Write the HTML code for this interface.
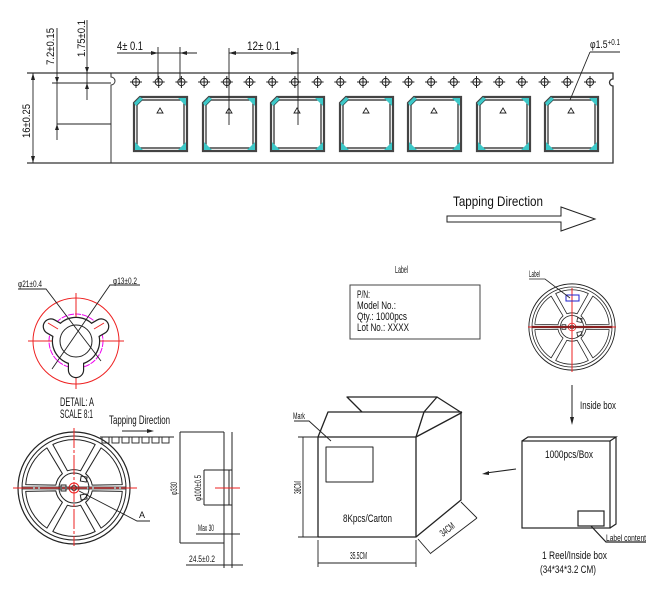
<!DOCTYPE html>
<html><head><meta charset="utf-8"><style>
html,body{margin:0;padding:0;background:#fff}
svg{display:block}
text{font-family:"Liberation Sans Narrow","Liberation Sans",sans-serif;fill:#111}
</style></head><body>
<svg width="650" height="600" viewBox="0 0 650 600" xmlns="http://www.w3.org/2000/svg">
<defs>
<g id="hole"><circle r="3.6" fill="none" stroke="#222" stroke-width="1"/><path d="M-6,0H6M0,-6V6" stroke="#222" stroke-width="1"/></g>
<g id="pocket">
<path d="M6,0H53V54H0V6Z" fill="none" stroke="#444" stroke-width="2.2"/>
<path d="M8,3H50V51H3V8Z" fill="none" stroke="#222" stroke-width="1.2"/>
<polygon points="44,1 52,1 52,9" fill="#3cc8c8"/>
<polygon points="52,45 52,53 44,53" fill="#3cc8c8"/>
<polygon points="1,45 1,53 9,53" fill="#3cc8c8"/>
<polygon points="6,0 9,2 2,9 0,6" fill="#3cc8c8"/>
<polygon points="26,11 29,16 23,16" fill="none" stroke="#222" stroke-width="0.9"/>
</g>
<path id="win" d="M17.2,-6.6 L43.5,-21.2 A48,48 0 0 1 43.5,21.2 L17.2,6.6 A19,19 0 0 0 17.2,-6.6 Z" fill="none" stroke="#222" stroke-width="1" stroke-linejoin="round"/>
<g id="reel">
<circle r="56" fill="none" stroke="#222" stroke-width="1.2"/>
<circle r="52" fill="none" stroke="#222" stroke-width="1"/>
<use href="#win" transform="rotate(30)"/><use href="#win" transform="rotate(90)"/><use href="#win" transform="rotate(150)"/>
<use href="#win" transform="rotate(210)"/><use href="#win" transform="rotate(270)"/><use href="#win" transform="rotate(330)"/>
<circle r="15" fill="none" stroke="#222" stroke-width="1"/>
<rect x="5" y="-13" width="6" height="5" fill="none" stroke="#222" transform="rotate(10)"/>
<rect x="5" y="8" width="6" height="5" fill="none" stroke="#222" transform="rotate(-10)"/>
<rect x="-13" y="-3" width="5" height="6" fill="none" stroke="#222"/>
<circle r="5" fill="none" stroke="#e22" stroke-width="1"/>
<circle r="2.5" fill="none" stroke="#222" stroke-width="1"/>
<path d="M-52,-1H52M-52,1H52" stroke="#222" stroke-width="0.8"/>
</g>
</defs>

<!-- TAPE -->
<g stroke="#333" fill="none">
<path d="M27,73H613V79A3,3 0 0 0 613,86V163H27" stroke-width="1.3"/>
<path d="M111,73V77A4,4 0 0 1 111,85V163" stroke-width="1"/>
</g>
<g>
<use href="#hole" x="136" y="82"/><use href="#hole" x="158.7" y="82"/><use href="#hole" x="181.4" y="82"/><use href="#hole" x="204.1" y="82"/><use href="#hole" x="226.8" y="82"/><use href="#hole" x="249.5" y="82"/><use href="#hole" x="272.2" y="82"/><use href="#hole" x="294.9" y="82"/><use href="#hole" x="317.6" y="82"/><use href="#hole" x="340.3" y="82"/><use href="#hole" x="363" y="82"/><use href="#hole" x="385.7" y="82"/><use href="#hole" x="408.4" y="82"/><use href="#hole" x="431.1" y="82"/><use href="#hole" x="453.8" y="82"/><use href="#hole" x="476.5" y="82"/><use href="#hole" x="499.2" y="82"/><use href="#hole" x="521.9" y="82"/><use href="#hole" x="544.6" y="82"/><use href="#hole" x="567.3" y="82"/><use href="#hole" x="590" y="82"/>
</g>
<use href="#pocket" x="134" y="97"/><use href="#pocket" x="203" y="97"/><use href="#pocket" x="271" y="97"/><use href="#pocket" x="340" y="97"/><use href="#pocket" x="408" y="97"/><use href="#pocket" x="477" y="97"/><use href="#pocket" x="545" y="97"/>

<!-- tape dims -->
<g stroke="#222" stroke-width="0.9" fill="none">
<path d="M33,73V163"/><path d="M57,28V140"/><path d="M52,83H111"/><path d="M57,124H111"/><path d="M87,20V100"/>
<path d="M117,53H197"/><path d="M158,47V82M180,47V82"/>
<path d="M229,48V125M298,48V125M229,53H298"/>
<path d="M590,52H620M590,52L570,100"/>
</g>
<g fill="#222">
<polygon points="33,73 31,80 35,80"/><polygon points="33,163 31,156 35,156"/>
<polygon points="57,83 55,77 59,77"/><polygon points="57,124 55,130 59,130"/>
<polygon points="87,73 85,67 89,67"/><polygon points="87,83 85,89 89,89"/>
<polygon points="158,53 151,51 151,55"/><polygon points="180,53 187,51 187,55"/>
<polygon points="229,53 236,51 236,55"/><polygon points="298,53 291,51 291,55"/>
</g>
<text x="117" y="50" font-size="12" textLength="26" lengthAdjust="spacingAndGlyphs">4± 0.1</text>
<text x="247" y="50" font-size="12" textLength="33" lengthAdjust="spacingAndGlyphs">12± 0.1</text>
<text x="590" y="48" font-size="11" textLength="30" lengthAdjust="spacingAndGlyphs">φ1.5<tspan font-size="8" dy="-3">+0.1</tspan></text>
<text transform="translate(54,65) rotate(-90)" font-size="11" textLength="37" lengthAdjust="spacingAndGlyphs">7.2±0.15</text>
<text transform="translate(85,57) rotate(-90)" font-size="11" textLength="37" lengthAdjust="spacingAndGlyphs">1.75±0.1</text>
<text transform="translate(30,138) rotate(-90)" font-size="11" textLength="34" lengthAdjust="spacingAndGlyphs">16±0.25</text>

<!-- Tapping direction big -->
<text x="453" y="206" font-size="14" textLength="90" lengthAdjust="spacingAndGlyphs">Tapping Direction</text>
<path d="M447,216H561V207L595,219L561,231V222H447Z" fill="none" stroke="#222" stroke-width="1"/>

<!-- DETAIL A -->
<g stroke-width="1" fill="none">
<circle cx="76" cy="341" r="43" stroke="#e22"/>
<circle cx="76" cy="341" r="27" stroke="#e0e" stroke-dasharray="6,1"/>
<path d="M28,341H124M76,293V389" stroke="#e22"/>
</g>
<g transform="translate(76,341)">
<g stroke="#222" stroke-width="2.4" fill="#222">
<circle r="23"/>
<rect x="-7" y="10" width="14" height="26" rx="7"/>
<rect x="-7" y="10" width="14" height="26" rx="7" transform="rotate(120)"/>
<rect x="-7" y="10" width="14" height="26" rx="7" transform="rotate(240)"/>
</g>
<g fill="#fff">
<circle r="23"/>
<rect x="-7" y="10" width="14" height="26" rx="7"/>
<rect x="-7" y="10" width="14" height="26" rx="7" transform="rotate(120)"/>
<rect x="-7" y="10" width="14" height="26" rx="7" transform="rotate(240)"/>
</g>
<circle r="16" fill="none" stroke="#222"/>
<g stroke="#e22" stroke-width="1"><path d="M-18,-12L-28,-18M18,-12L28,-18"/></g>
</g>
<g stroke="#222" stroke-width="0.9" fill="none">
<path d="M18,289H46L101,361"/><path d="M140,285H110L52,369"/>
</g>
<text x="18" y="287" font-size="9" textLength="24" lengthAdjust="spacingAndGlyphs">φ21±0.4</text>
<text x="113" y="284" font-size="9" textLength="24" lengthAdjust="spacingAndGlyphs">φ13±0.2</text>
<text x="60" y="406" font-size="12" textLength="34" lengthAdjust="spacingAndGlyphs">DETAIL: A</text>
<text x="60" y="418" font-size="12" textLength="33" lengthAdjust="spacingAndGlyphs">SCALE 8:1</text>

<!-- big reel -->
<use href="#reel" x="74" y="488"/>
<path d="M13,488H137M74,428V546" stroke="#e22" stroke-width="1" stroke-dasharray="20,2,3,2"/>
<path d="M79,491L137,521H150" stroke="#222" stroke-width="0.9" fill="none"/>
<text x="139" y="518" font-size="9">A</text>
<text x="109" y="424" font-size="12" textLength="61" lengthAdjust="spacingAndGlyphs">Tapping Direction</text>
<path d="M122,431H152" stroke="#222"/><polygon points="154,431 147,429 147,433" fill="#222"/>
<path d="M100,437H174" stroke="#222" stroke-width="0.9"/>
<g fill="none" stroke="#222" stroke-width="0.9">
<rect x="102" y="437" width="7" height="6"/><rect x="112" y="437" width="7" height="6"/><rect x="122" y="437" width="7" height="6"/><rect x="132" y="437" width="7" height="6"/><rect x="142" y="437" width="7" height="6"/><rect x="152" y="437" width="7" height="6"/><rect x="162" y="437" width="7" height="6"/>
</g>

<!-- side view -->
<g stroke="#222" stroke-width="1" fill="none">
<path d="M180,432V543M180,432H224M180,543H224"/>
<path d="M224,432V568M232,432V568"/>
<path d="M204,470H232M204,505H232M204,470V505M229,470V505"/>
<path d="M196,534H240M186,565H243"/>
</g>
<path d="M215,488H240" stroke="#e22"/>
<text transform="translate(177,495) rotate(-90)" font-size="9" textLength="13" lengthAdjust="spacingAndGlyphs">φ330</text>
<text transform="translate(201,501) rotate(-90)" font-size="9" textLength="26" lengthAdjust="spacingAndGlyphs">φ100±0.5</text>
<text x="198" y="531" font-size="9" textLength="16" lengthAdjust="spacingAndGlyphs">Max 30</text>
<text x="189" y="562" font-size="9" textLength="26" lengthAdjust="spacingAndGlyphs">24.5±0.2</text>

<!-- label box -->
<text x="395" y="273" font-size="10" textLength="13" lengthAdjust="spacingAndGlyphs">Label</text>
<rect x="350" y="285" width="130" height="54" fill="none" stroke="#444" stroke-width="1"/>
<text x="357" y="298" font-size="11" textLength="13" lengthAdjust="spacingAndGlyphs">P/N:</text>
<text x="357" y="309" font-size="11" textLength="39" lengthAdjust="spacingAndGlyphs">Model No.:</text>
<text x="357" y="320" font-size="11" textLength="50" lengthAdjust="spacingAndGlyphs">Qty.: 1000pcs</text>
<text x="357" y="331" font-size="11" textLength="52" lengthAdjust="spacingAndGlyphs">Lot No.: XXXX</text>

<!-- small reel -->
<g transform="translate(572,327) scale(0.77)"><use href="#reel"/></g>
<path d="M528,327H616M572,288V372" stroke="#e22" stroke-width="1"/>
<rect x="566" y="295" width="13" height="6" fill="none" stroke="#22c" stroke-width="1"/>
<path d="M529,279H545L570,298" stroke="#222" stroke-width="0.8" fill="none"/>
<text x="529" y="277" font-size="9" textLength="11" lengthAdjust="spacingAndGlyphs">Label</text>

<!-- inside box arrow -->
<path d="M572,385V420" stroke="#222"/><polygon points="572,425 570,417 574,417" fill="#222"/>
<text x="580" y="409" font-size="11" textLength="36" lengthAdjust="spacingAndGlyphs">Inside box</text>

<!-- inside box -->
<g stroke="#222" stroke-width="1.2" fill="none">
<rect x="522" y="441" width="88" height="87"/>
<path d="M522,441L528,437H616L610,441M616,437V524L610,528"/>
<rect x="578" y="511" width="26" height="15"/>
<path d="M591,526L606,542H646"/>
</g>
<text x="545" y="458" font-size="11" textLength="48" lengthAdjust="spacingAndGlyphs">1000pcs/Box</text>
<text x="606" y="541" font-size="9" textLength="40" lengthAdjust="spacingAndGlyphs">Label content</text>
<text x="542" y="559" font-size="11" textLength="65" lengthAdjust="spacingAndGlyphs">1 Reel/Inside box</text>
<text x="540" y="573" font-size="11" textLength="56" lengthAdjust="spacingAndGlyphs">(34*34*3.2 CM)</text>

<!-- arrow to carton -->
<path d="M516,469L486,473" stroke="#222"/><polygon points="482,474 489,471 489,475" fill="#222"/>

<!-- carton -->
<g stroke="#222" stroke-width="1.3" fill="none" stroke-linejoin="round">
<rect x="318" y="437" width="98" height="100"/>
<path d="M416,437L461,413V500L416,537"/>
<path d="M318,437L328,412H424L416,437"/>
<path d="M424,412H462M424,412L437,397H347L362,412"/>
<path d="M437,397L462,413"/>
<rect x="326" y="447" width="47" height="35" stroke-width="1"/>
</g>
<g stroke="#222" stroke-width="0.9" fill="none">
<path d="M303,437V537M298,437H318M298,537H318"/>
<path d="M318,540V567M416,540V567M318,563H416"/>
<path d="M418,539L431,554M461,502L477,518M431,553L477,518"/>
<path d="M294,421H309L331,441"/>
</g>
<text x="293" y="419" font-size="9" textLength="12" lengthAdjust="spacingAndGlyphs">Mark</text>
<text x="343" y="522" font-size="11" textLength="49" lengthAdjust="spacingAndGlyphs">8Kpcs/Carton</text>
<text transform="translate(301,494) rotate(-90)" font-size="10" textLength="13" lengthAdjust="spacingAndGlyphs">36CM</text>
<text x="350" y="559" font-size="10" textLength="17" lengthAdjust="spacingAndGlyphs">35.5CM</text>
<text transform="translate(443,537) rotate(-38)" font-size="10" textLength="16" lengthAdjust="spacingAndGlyphs">34CM</text>
</svg>
</body></html>
